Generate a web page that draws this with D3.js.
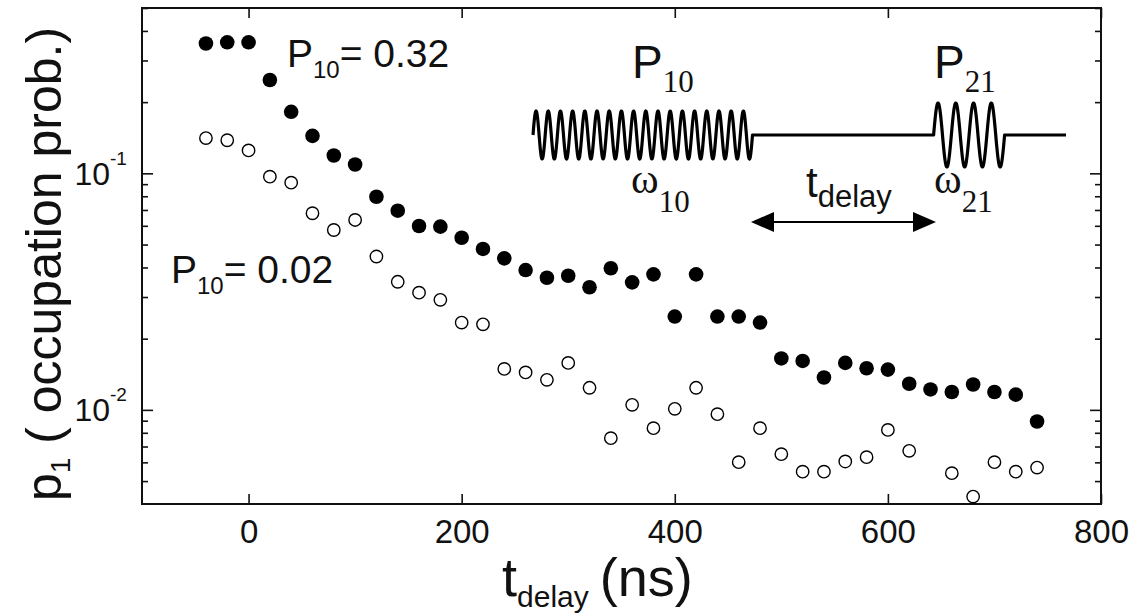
<!DOCTYPE html>
<html><head><meta charset="utf-8">
<script src="https://cdn.jsdelivr.net/npm/d3@7"></script>
<style>
body{margin:0;background:#fff}
svg{display:block}
text{font-family:"Liberation Sans",Arial,Helvetica,sans-serif;fill:#111}
.serif{font-family:"Liberation Serif","Times New Roman",Times,serif}
</style>
</head><body>
<svg id="c" width="1142" height="615"></svg>
<script>
// ---- data ----
const tDelay = [-40,-20,0,20,40,60,80,100,120,140,160,180,200,220,240,260,280,300,320,340,
                360,380,400,420,440,460,480,500,520,540,560,580,600,620,640,660,680,700,720,740];
// P10 = 0.32 (filled)
const pHigh = [0.354,0.358,0.358,0.248,0.182,0.144,0.119,0.109,0.0796,0.0695,0.0599,0.0595,0.0534,0.0479,0.0437,0.0390,0.0362,0.0369,0.0330,0.0397,
               0.0346,0.0374,0.0248,0.0374,0.0248,0.0248,0.0234,0.0165,0.0161,0.0137,0.0158,0.0150,0.0148,0.0129,0.0122,0.0119,0.0128,0.0119,0.0116,0.00893];
// P10 = 0.02 (open)
const pLow  = [0.141,0.138,0.125,0.0968,0.0913,0.0678,0.0576,0.0635,0.0445,0.0348,0.0313,0.0292,0.0234,0.0230,0.0149,0.0144,0.0134,0.0158,0.0124,0.00759,
               0.0105,0.00837,0.0101,0.0124,0.00959,0.00601,0.00837,0.0065,0.00548,0.00548,0.00605,0.00631,0.00823,0.00671,null,0.0054,0.0043,0.00601,0.00548,0.0057];
const xTicks = [0,200,400,600,800];
const yMajor = [0.01,0.1];
const yMajorExp = ["-2","-1"];
const yMinor = [0.005,0.006,0.007,0.008,0.009,0.02,0.03,0.04,0.05,0.06,0.07,0.08,0.09,0.2,0.3,0.4,0.5];

// ---- layout ----
const L=142,R=1101,T=8,B=504;
const svg=d3.select("#c");
const x=d3.scaleLinear().domain([-100,800]).range([L,R]);
const y=d3.scaleLog().domain([0.004,0.5]).range([B,T]);
const ink="#111";

function styleAxis(g){
  g.select(".domain").remove();
  g.attr("font-family",null).attr("font-size",null);
  g.selectAll(".tick line").attr("stroke",ink).attr("stroke-width",1.6);
}
// bottom
svg.append("g").attr("transform",`translate(0,${B})`)
  .call(d3.axisBottom(x).tickValues(xTicks).tickSize(-10).tickPadding(16).tickFormat(d3.format("d")))
  .call(styleAxis)
  .selectAll("text").style("font-size","33px").attr("fill",ink);
// top
svg.append("g").attr("transform",`translate(0,${T})`)
  .call(d3.axisTop(x).tickValues(xTicks).tickSize(-10).tickFormat(""))
  .call(styleAxis);
// left / right, majors + minors
[[L,d3.axisLeft],[R,d3.axisRight]].forEach(([px,ax])=>{
  svg.append("g").attr("transform",`translate(${px},0)`)
    .call(ax(y).tickValues(yMajor).tickSize(-11).tickFormat("")).call(styleAxis);
  svg.append("g").attr("transform",`translate(${px},0)`)
    .call(ax(y).tickValues(yMinor).tickSize(-6).tickFormat("")).call(styleAxis);
});
// y tick labels 10^n
yMajor.forEach((v,i)=>{
  svg.append("text").attr("x",110).attr("y",y(v)+11.5).attr("text-anchor","end")
    .style("font-size","32px").text("10");
  svg.append("text").attr("x",110).attr("y",y(v)-8.5)
    .style("font-size","19px").text(yMajorExp[i]);
});
// frame
svg.append("rect").attr("x",L).attr("y",T).attr("width",R-L).attr("height",B-T)
  .attr("fill","none").attr("stroke",ink).attr("stroke-width",2);

// ---- data marks ----
const hi=tDelay.map((t,i)=>({t,v:pHigh[i]}));
const lo=tDelay.map((t,i)=>({t,v:pLow[i]})).filter(d=>d.v!=null);
svg.append("g").selectAll("circle").data(lo).join("circle")
  .attr("cx",d=>x(d.t)).attr("cy",d=>y(d.v)).attr("r",6.2)
  .attr("fill","#fff").attr("stroke","#000").attr("stroke-width",1.4);
svg.append("g").selectAll("circle").data(hi).join("circle")
  .attr("cx",d=>x(d.t)).attr("cy",d=>y(d.v)).attr("r",7.3).attr("fill","#000");

// ---- annotations ----
function pLabel(px,py,val){
  const t=svg.append("text").attr("x",px).attr("y",py).style("font-size","39px");
  t.append("tspan").text("P");
  t.append("tspan").attr("dy",11).style("font-size","24px").text("10");
  t.append("tspan").attr("dy",-11).text("= "+val);
}
pLabel(287,67,"0.32");
pLabel(171,283,"0.02");

// axis titles
const yt=svg.append("text").attr("transform","translate(61,264) rotate(-90)")
  .attr("text-anchor","middle").style("font-size","50px");
yt.append("tspan").text("p");
yt.append("tspan").attr("dy",9).style("font-size","28px").text("1");
yt.append("tspan").attr("dy",-9).text(" ( occupation prob.)");

const xt=svg.append("text").attr("x",502).attr("y",596).style("font-size","54px");
xt.append("tspan").text("t");
xt.append("tspan").attr("dy",11).style("font-size","30px").text("delay");
xt.append("tspan").attr("dy",-11).attr("dx",-4).text(" (ns)");

// ---- inset pulse schematic ----
const cy=135;
function wave(x0,x1,cycles,amp){
  const pts=[],n=Math.round((x1-x0)*4);
  for(let k=0;k<=n;k++){const xx=x0+(x1-x0)*k/n;
    pts.push([xx,cy-amp*Math.sin(2*Math.PI*cycles*(xx-x0)/(x1-x0))]);}
  return pts;
}
const line=d3.line();
const wpath=[...wave(533,752.5,18,24),[933.6,cy],...wave(933.6,1004.6,4,32),[1066,cy]];
svg.append("path").attr("d",line(wpath)).attr("fill","none")
  .attr("stroke","#000").attr("stroke-width",3.2).attr("stroke-linejoin","round");

function sym(px,py,main,sub,mainSerif,mainSize,subDy){
  const t=svg.append("text").attr("x",px).attr("y",py);
  const m=t.append("tspan").style("font-size",mainSize+"px").text(main);
  if(mainSerif) m.attr("class","serif");
  t.append("tspan").attr("class","serif").attr("dy",subDy).style("font-size","31px").text(sub);
}
sym(632,78,"P","10",false,46,13.5);
sym(934,78,"P","21",false,46,13.5);
sym(631,193,"ω","10",true,42,18.5);
sym(934,193,"ω","21",true,42,18.5);
const td=svg.append("text").attr("x",806).attr("y",197);
td.append("tspan").style("font-size","42px").text("t");
td.append("tspan").attr("dy",10).style("font-size","31px").text("delay");

// double arrow
const ay=222, ax0=751, ax1=936, ah=23, aw=10;
svg.append("line").attr("x1",ax0+5).attr("x2",ax1-5).attr("y1",ay).attr("y2",ay)
  .attr("stroke","#000").attr("stroke-width",2);
svg.append("path").attr("d",`M${ax0},${ay}L${ax0+ah},${ay-aw}L${ax0+ah},${ay+aw}Z`).attr("fill","#000");
svg.append("path").attr("d",`M${ax1},${ay}L${ax1-ah},${ay-aw}L${ax1-ah},${ay+aw}Z`).attr("fill","#000");
</script>
</body></html>
